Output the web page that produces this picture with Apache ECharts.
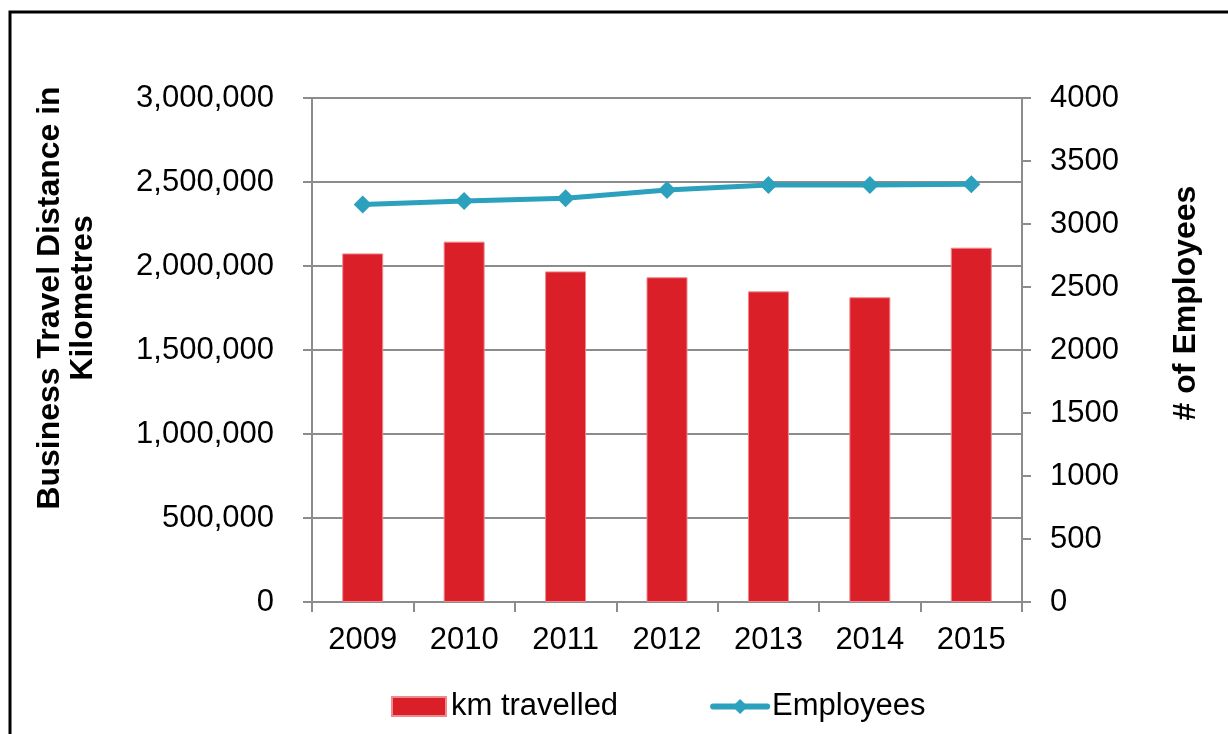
<!DOCTYPE html>
<html>
<head>
<meta charset="utf-8">
<title>Business Travel Distance and Employees</title>
<script src="https://cdn.jsdelivr.net/npm/echarts@6/dist/echarts.min.js"></script>
<style>
  html, body { margin: 0; padding: 0; background: #ffffff; }
  #chart { width: 1228px; height: 734px; }
</style>
</head>
<body>
<div id="chart"></div>
<script>
// Business travel per year with headcount on a secondary axis
const years = ['2009', '2010', '2011', '2012', '2013', '2014', '2015'];
const kmTravelled = [2075000, 2145000, 1968000, 1933000, 1849000, 1814000, 2109000];
const employees = [3155, 3182, 3205, 3270, 3310, 3310, 3316];

const FONT = '"Liberation Sans", Arial, sans-serif';
const AXIS_GREY = '#8c8c8c';
const RED = '#da1f28';
const TEAL = '#2ba1be';
const LABEL_SIZE = 31;

const chart = echarts.init(document.getElementById('chart'), null, { renderer: 'canvas' });

chart.setOption({
  animation: false,
  backgroundColor: '#ffffff',
  textStyle: { fontFamily: FONT },
  grid: { left: 312, right: 206, top: 98, bottom: 132, containLabel: false },
  graphic: [
    {
      type: 'rect',
      shape: { x: 10, y: 12, width: 1400, height: 900 },
      style: { fill: 'none', stroke: '#000000', lineWidth: 3 },
      silent: true, z: 0
    },
    {
      type: 'text',
      x: 67, y: 298,
      rotation: Math.PI / 2,
      style: {
        text: 'Business Travel Distance in\nKilometres',
        font: 'bold 32px ' + FONT,
        fill: '#000000',
        align: 'center',
        verticalAlign: 'middle',
        lineHeight: 33
      },
      silent: true
    },
    {
      type: 'text',
      x: 1186, y: 303,
      rotation: Math.PI / 2,
      style: {
        text: '# of Employees',
        font: 'bold 32px ' + FONT,
        fill: '#000000',
        align: 'center',
        verticalAlign: 'middle'
      },
      silent: true
    }
  ],
  legend: {
    left: 386,
    top: 686,
    itemWidth: 54,
    itemHeight: 19,
    itemGap: 92,
    textStyle: { fontFamily: FONT, fontSize: LABEL_SIZE, color: '#000000', padding: [0, 0, 0, 0] },
    data: [
      { name: 'km travelled', icon: 'rect' },
      { name: 'Employees', lineStyle: { width: 6, cap: 'round' } }
    ]
  },
  xAxis: {
    type: 'category',
    data: years,
    boundaryGap: true,
    axisLine: { show: true, lineStyle: { color: AXIS_GREY, width: 2 } },
    axisTick: { show: true, length: 10, alignWithLabel: false, lineStyle: { color: AXIS_GREY, width: 2 } },
    axisLabel: { fontFamily: FONT, fontSize: LABEL_SIZE, color: '#000000', margin: 23 }
  },
  yAxis: [
    {
      type: 'value',
      min: 0, max: 3000000, interval: 500000,
      axisLine: { show: true, lineStyle: { color: AXIS_GREY, width: 2 } },
      axisTick: { show: true, length: 9, inside: false, lineStyle: { color: AXIS_GREY, width: 2 } },
      splitLine: { show: true, lineStyle: { color: AXIS_GREY, width: 2 } },
      axisLabel: {
        fontFamily: FONT, fontSize: LABEL_SIZE, color: '#000000', margin: 38,
        formatter: v => v.toLocaleString('en-US')
      }
    },
    {
      type: 'value',
      min: 0, max: 4000, interval: 500,
      position: 'right',
      axisLine: { show: true, lineStyle: { color: AXIS_GREY, width: 2 } },
      axisTick: { show: true, length: 9, inside: false, lineStyle: { color: AXIS_GREY, width: 2 } },
      splitLine: { show: false },
      axisLabel: {
        fontFamily: FONT, fontSize: LABEL_SIZE, color: '#000000', margin: 28,
        formatter: v => String(v)
      }
    }
  ],
  series: [
    {
      name: 'km travelled',
      type: 'bar',
      yAxisIndex: 0,
      data: kmTravelled,
      barWidth: 41,
      itemStyle: { color: RED, borderColor: '#ee8a8f', borderWidth: 1 },
      z: 2
    },
    {
      name: 'Employees',
      type: 'line',
      yAxisIndex: 1,
      data: employees,
      symbol: 'diamond',
      symbolSize: 18,
      lineStyle: { color: TEAL, width: 5 },
      itemStyle: { color: TEAL },
      z: 3
    }
  ]
});
</script>
</body>
</html>
